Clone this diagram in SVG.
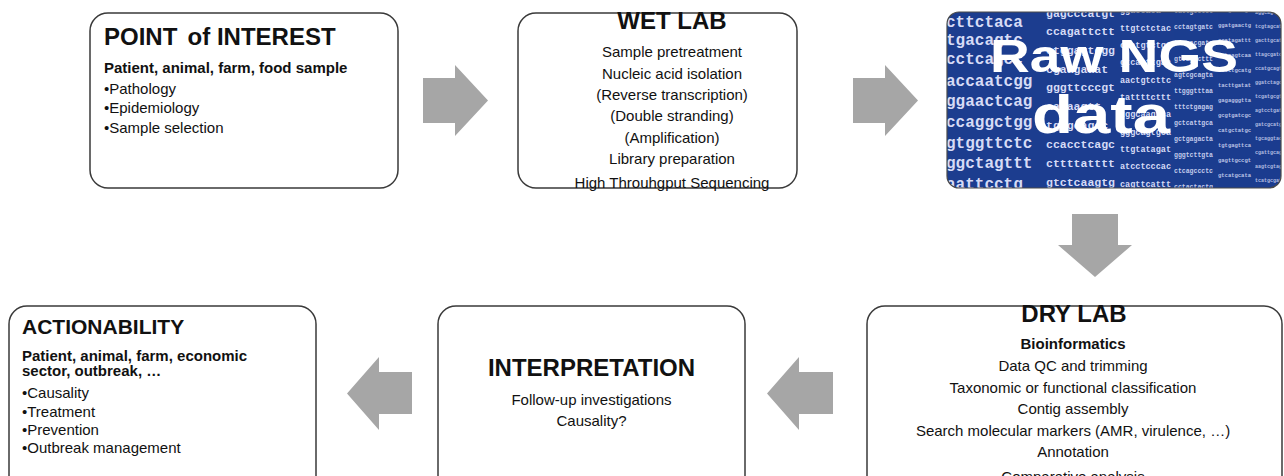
<svg xmlns="http://www.w3.org/2000/svg" width="1284" height="476" viewBox="0 0 1284 476">
<style>
.box{fill:#fff;stroke:#3a3a3a;stroke-width:1.5}
.t{font-family:"Liberation Sans",Arial,sans-serif;fill:#111}
.h{font-weight:bold;font-size:24px}
.h2{font-weight:bold;font-size:21px}
.b{font-weight:bold;font-size:15px}
.r{font-size:15px}
.c{text-anchor:middle}
.arrow{fill:#a6a6a6}
.seq{font-family:"Liberation Mono","DejaVu Sans Mono",monospace;font-weight:bold;fill:#d6dbf6}
.big{font-family:"Liberation Sans",Arial,sans-serif;font-weight:bold;fill:#fff;text-anchor:middle}
</style>
<defs>
<clipPath id="imgclip"><rect x="947" y="12" width="334" height="176" rx="12"/></clipPath>
</defs>

<g id="connectors">
<polygon class="arrow" points="423,78 455,78 455,65 488,100.5 455,136 455,123 423,123"/>
<polygon class="arrow" points="853,78 885,78 885,65 918,100.5 885,136 885,123 853,123"/>
<polygon class="arrow" points="1072,214 1118,214 1118,245 1132,245 1095,277 1058,245 1072,245"/>
<polygon class="arrow" points="833,372 799,372 799,357 767,393.5 799,430 799,414 833,414"/>
<polygon class="arrow" points="412,372 379,372 379,357 347,393.5 379,430 379,414 412,414"/>
</g>

<g id="point-of-interest">
<rect class="box" x="90" y="13" width="308" height="175" rx="18"/>
<text class="t h" x="104" y="45">POINT<tspan dx="12">of INTEREST</tspan></text>
<text class="t b" x="104" y="73">Patient, animal, farm, food sample</text>
<text class="t r" x="104" y="94">•Pathology</text>
<text class="t r" x="104" y="113">•Epidemiology</text>
<text class="t r" x="104" y="133">•Sample selection</text>
</g>

<g id="wet-lab">
<rect class="box" x="518" y="13" width="279" height="175" rx="18"/>
<text class="t h c" x="672" y="29" font-size="23">WET LAB</text>
<text class="t r c" x="672" y="57">Sample pretreatment</text>
<text class="t r c" x="672" y="79">Nucleic acid isolation</text>
<text class="t r c" x="672" y="100">(Reverse transcription)</text>
<text class="t r c" x="672" y="121">(Double stranding)</text>
<text class="t r c" x="672" y="143">(Amplification)</text>
<text class="t r c" x="672" y="164">Library preparation</text>
<text class="t r c" x="672" y="188">High Throuhgput Sequencing</text>
</g>

<g id="raw-ngs-data">
<rect x="947" y="12" width="334" height="176" rx="12" fill="#1c3d8f"/>
<g clip-path="url(#imgclip)">
<text class="seq" font-size="16">
<tspan x="946" y="27">cttctaca</tspan>
<tspan x="946" y="45">tgacagtc</tspan>
<tspan x="946" y="64">cctcagcc</tspan>
<tspan x="946" y="86">accaatcgg</tspan>
<tspan x="946" y="106">ggaactcag</tspan>
<tspan x="946" y="127">ccaggctgg</tspan>
<tspan x="946" y="148">gtggttctc</tspan>
<tspan x="946" y="168">ggctagttt</tspan>
<tspan x="946" y="189">aattcctg</tspan>
</text>
<text class="seq" font-size="11.5">
<tspan x="1046" y="17">gagcccatgt</tspan>
<tspan x="1046" y="35">ccagattctt</tspan>
<tspan x="1046" y="54">ctggagtggg</tspan>
<tspan x="1046" y="73">cgaagaaat</tspan>
<tspan x="1046" y="91">gggttcccgt</tspan>
<tspan x="1046" y="110">aaaaagtt</tspan>
<tspan x="1046" y="129">tgggcagcc</tspan>
<tspan x="1046" y="148">ccacctcagc</tspan>
<tspan x="1046" y="167">cttttatttt</tspan>
<tspan x="1046" y="186">gtctcaagtg</tspan>
</text>
<text class="seq" font-size="8.5">
<tspan x="1120" y="13">ggaccaca</tspan>
<tspan x="1120" y="31">ttgtctctac</tspan>
<tspan x="1120" y="48">caatgtctgt</tspan>
<tspan x="1120" y="65">gtcaattgac</tspan>
<tspan x="1120" y="83">aactgtcttc</tspan>
<tspan x="1120" y="100">tattttcttt</tspan>
<tspan x="1120" y="117">tggcaagtca</tspan>
<tspan x="1120" y="135">gggcagtgca</tspan>
<tspan x="1120" y="152">ttgtatagat</tspan>
<tspan x="1120" y="169">atcctcccac</tspan>
<tspan x="1120" y="187">cagttcattt</tspan>
</text>
<text class="seq" font-size="6.5" opacity="0.9">
<tspan x="1174" y="13">tattgcctct</tspan>
<tspan x="1174" y="29">cctagtgatc</tspan>
<tspan x="1174" y="45">tcacacgatc</tspan>
<tspan x="1174" y="61">gtcagccttt</tspan>
<tspan x="1174" y="77">agtcgcagta</tspan>
<tspan x="1174" y="93">ttgggtttaa</tspan>
<tspan x="1174" y="109">tttctgagag</tspan>
<tspan x="1174" y="125">gctcattgca</tspan>
<tspan x="1174" y="141">gctgagacta</tspan>
<tspan x="1174" y="157">gggtcttgta</tspan>
<tspan x="1174" y="173">ctcagccctc</tspan>
<tspan x="1174" y="189">cctactactg</tspan>
</text>
<text class="seq" font-size="5.5" opacity="0.85">
<tspan x="1218" y="12">ctcgacccgt</tspan>
<tspan x="1218" y="27">ggatgaactg</tspan>
<tspan x="1218" y="42">ccatagattt</tspan>
<tspan x="1218" y="57">cgtaagtcaa</tspan>
<tspan x="1218" y="72">tacctgcatg</tspan>
<tspan x="1218" y="87">tacttgatat</tspan>
<tspan x="1218" y="102">gagagggtta</tspan>
<tspan x="1218" y="117">gcgtgatcgc</tspan>
<tspan x="1218" y="132">catgctatgc</tspan>
<tspan x="1218" y="147">tgtgagttca</tspan>
<tspan x="1218" y="162">gagttgccgt</tspan>
<tspan x="1218" y="177">gtcatgcata</tspan>
<tspan x="1218" y="192">agtgatgcac</tspan>
</text>
<text class="seq" font-size="5" opacity="0.8">
<tspan x="1255" y="14">aggcagtgtc</tspan>
<tspan x="1255" y="28">tcgtagcatg</tspan>
<tspan x="1255" y="42">gacttgcatt</tspan>
<tspan x="1255" y="56">ttagcgatca</tspan>
<tspan x="1255" y="70">ccatgcagtt</tspan>
<tspan x="1255" y="84">ggatctagca</tspan>
<tspan x="1255" y="98">tcgatgcgtt</tspan>
<tspan x="1255" y="112">agtcctgatg</tspan>
<tspan x="1255" y="126">gatcgcatgc</tspan>
<tspan x="1255" y="140">tgcaggtaca</tspan>
<tspan x="1255" y="154">cgattgcagt</tspan>
<tspan x="1255" y="168">aagtcgtagc</tspan>
<tspan x="1255" y="182">tcatgcgata</tspan>
</text>
</g>
<rect x="947" y="12" width="334" height="176" rx="12" fill="none" stroke="#4a4a4a" stroke-width="1.2"/>
<text class="big" x="1114" y="72" font-size="46" textLength="248" lengthAdjust="spacingAndGlyphs">Raw NGS</text>
<text class="big" x="1101" y="133" font-size="54" textLength="138" lengthAdjust="spacingAndGlyphs">data</text>
</g>

<g id="actionability">
<rect class="box" x="9" y="306" width="307" height="190" rx="18"/>
<text class="t h2" x="22" y="334">ACTIONABILITY</text>
<text class="t b" x="22" y="361">Patient, animal, farm, economic</text>
<text class="t b" x="22" y="376">sector, outbreak, …</text>
<text class="t r" x="22" y="398" font-size="14.5">•Causality</text>
<text class="t r" x="22" y="417" font-size="14.5">•Treatment</text>
<text class="t r" x="22" y="435" font-size="14.5">•Prevention</text>
<text class="t r" x="22" y="453" font-size="14.5">•Outbreak management</text>
</g>

<g id="interpretation">
<rect class="box" x="438" y="306" width="307" height="190" rx="18"/>
<text class="t h c" x="591.5" y="376">INTERPRETATION</text>
<text class="t r c" x="591.5" y="405">Follow-up investigations</text>
<text class="t r c" x="591.5" y="426">Causality?</text>
</g>

<g id="dry-lab">
<rect class="box" x="867" y="306" width="415" height="190" rx="18"/>
<text class="t h c" x="1074" y="322" font-size="23">DRY LAB</text>
<text class="t b c" x="1073" y="349">Bioinformatics</text>
<text class="t r c" x="1073" y="371">Data QC and trimming</text>
<text class="t r c" x="1073" y="392.5">Taxonomic or functional classification</text>
<text class="t r c" x="1073" y="414">Contig assembly</text>
<text class="t r c" x="1073" y="435.5">Search molecular markers (AMR, virulence, …)</text>
<text class="t r c" x="1073" y="457">Annotation</text>
<text class="t r c" x="1073" y="482">Comparative analysis</text>
</g>
</svg>
